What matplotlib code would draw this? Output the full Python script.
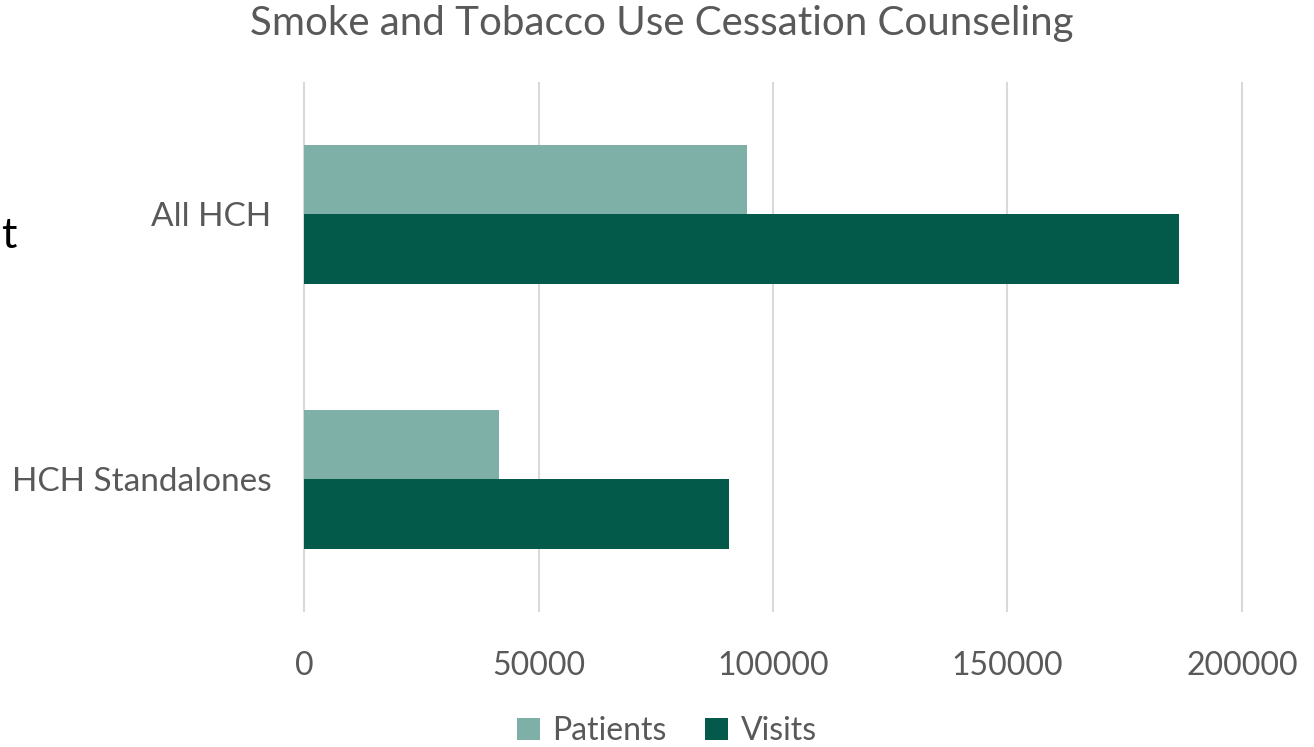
import matplotlib
matplotlib.use("Agg")
import matplotlib.pyplot as plt
import numpy as np

categories = ["All HCH", "HCH Standalones"]
patients = [94400, 41600]
visits = [186500, 90600]
x_ticks = [0, 50000, 100000, 150000, 200000]
series_names = ["Patients", "Visits"]
colors = ["#7FB0A7", "#035A4B"]

plt.rcParams["font.family"] = ["Lato", "DejaVu Sans"]
text_gray = "#595959"

W, H = 1314, 747
fig = plt.figure(figsize=(W / 100, H / 100), dpi=100)

# plot area spans 0..200000 between x=304 and x=1242 px, with a small margin
pad = 700
px_per_unit = (1242 - 304) / (x_ticks[-1] - x_ticks[0])
left_px = 304 - pad * px_per_unit
right_px = 1242 + pad * px_per_unit
ax = fig.add_axes([left_px / W, 1 - 612 / H, (right_px - left_px) / W, (612 - 82) / H])

y = np.arange(len(categories))
bh = 0.264
ax.barh(y - bh / 2, patients, height=bh, color=colors[0], label=series_names[0], zorder=3)
ax.barh(y + bh / 2, visits, height=bh, color=colors[1], label=series_names[1], zorder=3)

ax.set_xlim(x_ticks[0] - pad, x_ticks[-1] + pad)
ax.set_ylim(len(categories) - 0.5, -0.5)
ax.set_xticks(x_ticks)
ax.set_xticklabels([str(v) for v in x_ticks])
ax.set_yticks(y)
ax.set_yticklabels(categories)
ax.grid(axis="x", color="#D9D9D9", linewidth=1.5, zorder=0)
for s in ax.spines.values():
    s.set_visible(False)
ax.tick_params(axis="both", length=0, labelsize=23, labelcolor=text_gray)
ax.tick_params(axis="y", labelsize=24)
ax.tick_params(axis="x", pad=28)
ax.tick_params(axis="y", pad=21)

fig.text(662 / W, 1 - 24 / H, "Smoke and Tobacco Use Cessation Counseling",
         ha="center", va="center", fontsize=29, color=text_gray)
fig.text(1 / W, 1 - 236 / H, "t", ha="left", va="center", fontsize=31, color="black")

handles, labels = ax.get_legend_handles_labels()
leg = fig.legend(handles, labels, loc="center", bbox_to_anchor=(667 / W, 1 - 731 / H),
                 ncol=2, frameon=False, fontsize=23, handlelength=0.7, handleheight=0.7,
                 handletextpad=0.4, columnspacing=1.2)
for t in leg.get_texts():
    t.set_color(text_gray)

fig.savefig("out.png", dpi=100, facecolor="white")
